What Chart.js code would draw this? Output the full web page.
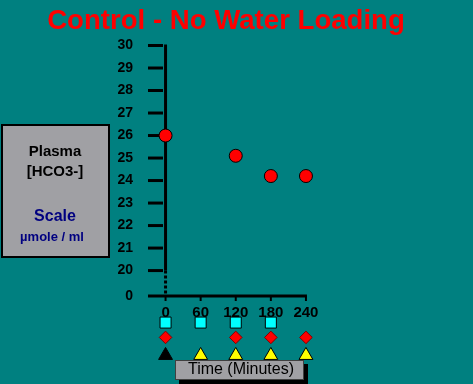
<!DOCTYPE html>
<html><head><meta charset="utf-8">
<script src="https://cdn.jsdelivr.net/npm/chart.js@4/dist/chart.umd.min.js"></script>
<style>html,body{margin:0;padding:0;background:#008080;overflow:hidden}canvas{display:block}</style>
</head><body>
<canvas id="c" width="473" height="384"></canvas>
<script>
// ---- data ----
const timeMinutes = [0, 120, 180, 240];
const hco3Values = [26.0, 25.1, 24.2, 24.2];
const xTickValues = [0, 60, 120, 180, 240];
const yTickValues = [20, 21, 22, 23, 24, 25, 26, 27, 28, 29, 30];
const squareTimes = [0, 60, 120, 180];
const diamondTimes = [0, 120, 180, 240];
const triangleTimes = [0, 60, 120, 180, 240];
const baselineTime = 0;

// ---- layout constants (not data) ----
const AXIS_BREAK = 18.87;      // scale position of the broken "0" / time axis
const ROW_SQUARE = 17.69, ROW_DIAMOND = 17.03, ROW_TRIANGLE = 16.23;
const FONT = '"Liberation Sans", Arial, Helvetica, sans-serif';
const TEAL = '#008080', GRAY = '#a0a0a4';

const decor = {
  id: 'decor',
  beforeDraw(chart) {
    const ctx = chart.ctx;
    ctx.save();
    ctx.fillStyle = TEAL;
    ctx.fillRect(0, 0, chart.width, chart.height);
    // title
    ctx.fillStyle = '#ff0000';
    ctx.font = 'bold 27.6px ' + FONT;
    ctx.textAlign = 'center';
    ctx.textBaseline = 'alphabetic';
    ctx.fillText('Control - No Water Loading', 226, 29);
    // left label box
    ctx.fillStyle = GRAY;
    ctx.fillRect(2, 125, 107, 132);
    ctx.strokeStyle = '#000';
    ctx.lineWidth = 2;
    ctx.strokeRect(2, 125, 107, 132);
    ctx.fillStyle = '#000';
    ctx.font = 'bold 15px ' + FONT;
    ctx.fillText('Plasma', 55, 156);
    ctx.fillText('[HCO3-]', 55, 176);
    ctx.fillStyle = '#000080';
    ctx.font = 'bold 16px ' + FONT;
    ctx.fillText('Scale', 55, 221);
    ctx.font = 'bold 13px ' + FONT;
    ctx.fillText('\u00b5mole / ml', 52, 241);
    ctx.restore();
  },
  beforeDatasetsDraw(chart) {
    const {ctx, scales: {x, y}} = chart;
    const ax = x.getPixelForValue(0);
    const yTop = y.getPixelForValue(30);
    const y20 = y.getPixelForValue(20);
    const yBase = y.getPixelForValue(AXIS_BREAK);
    ctx.save();
    ctx.strokeStyle = '#000';
    ctx.lineCap = 'butt';
    // y axis solid
    ctx.lineWidth = 3;
    ctx.beginPath(); ctx.moveTo(ax, yTop - 1); ctx.lineTo(ax, y20); ctx.stroke();
    // dashed break
    ctx.setLineDash([3, 2]);
    ctx.beginPath(); ctx.moveTo(ax, y20); ctx.lineTo(ax, yBase); ctx.stroke();
    ctx.setLineDash([]);
    // y tick marks
    yTickValues.forEach(v => {
      const py = y.getPixelForValue(v);
      ctx.beginPath(); ctx.moveTo(148, py); ctx.lineTo(163, py); ctx.stroke();
    });
    // x axis line
    ctx.beginPath(); ctx.moveTo(148, yBase); ctx.lineTo(x.getPixelForValue(240) + 1, yBase); ctx.stroke();
    // x tick marks
    ctx.lineWidth = 2;
    xTickValues.forEach(v => {
      const px = x.getPixelForValue(v);
      ctx.beginPath(); ctx.moveTo(px, yBase); ctx.lineTo(px, yBase + 5); ctx.stroke();
    });
    ctx.restore();
  },
  afterDraw(chart) {
    const ctx = chart.ctx;
    ctx.save();
    ctx.fillStyle = '#000';
    ctx.fillRect(179, 364, 129, 20);
    ctx.fillStyle = GRAY;
    ctx.fillRect(175, 360, 129, 20);
    ctx.strokeStyle = '#404040';
    ctx.lineWidth = 1;
    ctx.strokeRect(175.5, 360.5, 128, 19);
    ctx.fillStyle = '#000';
    ctx.font = '16px ' + FONT;
    ctx.textAlign = 'center';
    ctx.textBaseline = 'middle';
    ctx.fillText('Time (Minutes)', 241, 370);
    ctx.restore();
  }
};

const chart = new Chart(document.getElementById('c'), {
  type: 'scatter',
  data: {
    datasets: [
      {
        label: 'Plasma HCO3-',
        data: timeMinutes.map((t, i) => ({x: t, y: hco3Values[i]})),
        pointRadius: 6.5,
        pointBackgroundColor: '#ff0000',
        pointBorderColor: '#000',
        pointBorderWidth: 1,
        clip: false
      },
      {
        label: 'squares',
        data: squareTimes.map(t => ({x: t, y: ROW_SQUARE})),
        pointStyle: 'rect',
        pointRadius: 7.8,
        pointBackgroundColor: '#00ffff',
        pointBorderColor: '#000',
        pointBorderWidth: 1,
        clip: false
      },
      {
        label: 'diamonds',
        data: diamondTimes.map(t => ({x: t, y: ROW_DIAMOND})),
        pointStyle: 'rectRot',
        pointRadius: 6.3,
        pointBackgroundColor: '#ff0000',
        pointBorderColor: '#800000',
        pointBorderWidth: 1,
        clip: false
      },
      {
        label: 'triangles',
        data: triangleTimes.map(t => ({x: t, y: ROW_TRIANGLE})),
        pointStyle: 'triangle',
        pointRadius: 8,
        pointBackgroundColor: c => (c.raw && c.raw.x === baselineTime) ? '#000000' : '#ffff00',
        pointBorderColor: '#000',
        pointBorderWidth: 1,
        clip: false
      }
    ]
  },
  options: {
    responsive: false,
    devicePixelRatio: 1,
    animation: false,
    events: [],
    layout: {padding: {left: 0, top: 45.5, right: 149.5, bottom: 14}},
    plugins: {legend: {display: false}, tooltip: {enabled: false}, title: {display: false}},
    scales: {
      x: {
        type: 'linear',
        min: -30, max: 270,
        position: {y: AXIS_BREAK},
        grid: {display: false, drawTicks: false},
        border: {display: false},
        afterFit: s => { s.height = 0; },
        afterBuildTicks: s => { s.ticks = xTickValues.map(v => ({value: v})); },
        ticks: {
          color: '#000',
          font: {family: FONT, size: 15, weight: 'bold'},
          padding: 8,
          maxRotation: 0,
          autoSkip: false
        }
      },
      y: {
        type: 'linear',
        min: 16.0, max: 30,
        grid: {display: false, drawTicks: false},
        border: {display: false},
        afterFit: s => { s.width = 148; },
        afterBuildTicks: s => { s.ticks = [AXIS_BREAK].concat(yTickValues).map(v => ({value: v})); },
        ticks: {
          color: '#000',
          font: {family: FONT, size: 14, weight: 'bold'},
          padding: 15,
          autoSkip: false,
          callback: v => (v === AXIS_BREAK ? '0' : String(v))
        }
      }
    }
  },
  plugins: [decor]
});
</script>
</body></html>
